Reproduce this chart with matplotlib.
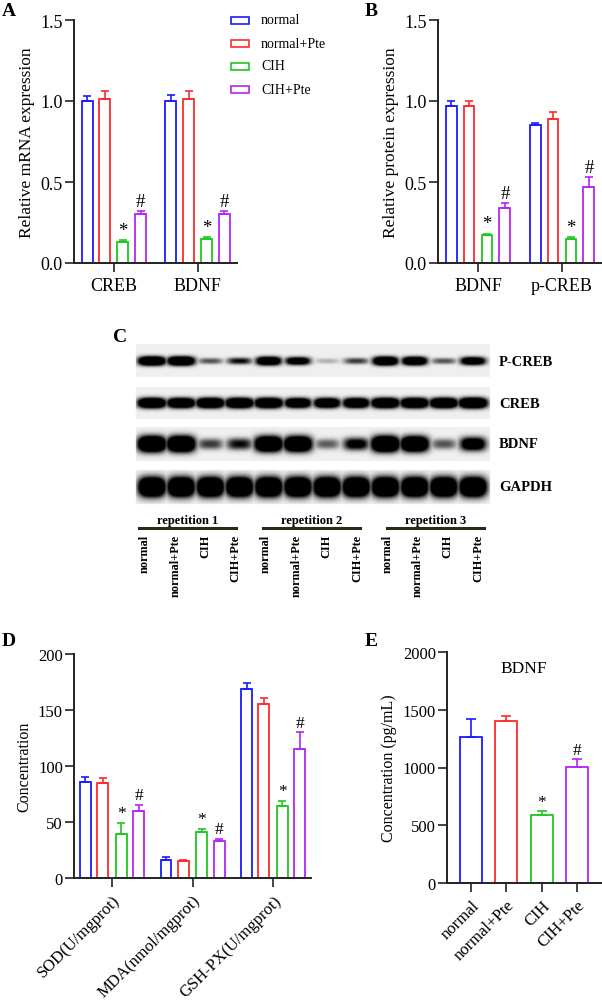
import numpy as np
import matplotlib
matplotlib.use("Agg")
import matplotlib.pyplot as plt
from matplotlib.patches import Rectangle

# ---------------- data ----------------
groups = ["normal", "normal+Pte", "CIH", "CIH+Pte"]
colors = ["#1a1aff", "#ff2a2a", "#1ec81e", "#b624f5"]
markers = ["", "", "*", "#"]

a_genes = ["CREB", "BDNF"]
a_mean = {"normal": [1.00, 1.00], "normal+Pte": [1.01, 1.01], "CIH": [0.13, 0.15], "CIH+Pte": [0.30, 0.30]}
a_err = {"normal": [0.03, 0.035], "normal+Pte": [0.05, 0.05], "CIH": [0.012, 0.012], "CIH+Pte": [0.02, 0.018]}

b_prot = ["BDNF", "p-CREB"]
b_mean = {"normal": [0.97, 0.85], "normal+Pte": [0.97, 0.89], "CIH": [0.17, 0.15], "CIH+Pte": [0.34, 0.47]}
b_err = {"normal": [0.03, 0.015], "normal+Pte": [0.03, 0.045], "CIH": [0.012, 0.012], "CIH+Pte": [0.03, 0.06]}

d_ind = ["SOD(U/mgprot)", "MDA(nmol/mgprot)", "GSH-PX(U/mgprot)"]
d_mean = {"normal": [86, 16, 169], "normal+Pte": [85, 15, 155], "CIH": [39, 41, 64], "CIH+Pte": [60, 33, 115]}
d_err = {"normal": [4, 3, 5], "normal+Pte": [4, 1, 6], "CIH": [10, 3, 5], "CIH+Pte": [5, 2, 15]}

e_title = "BDNF"
e_mean = [1260, 1405, 585, 1005]
e_err = [160, 40, 35, 65]

blot_rows = ["P-CREB", "CREB", "BDNF", "GAPDH"]
blot_reps = ["repetition 1", "repetition 2", "repetition 3"]
pcreb_band = [0.95, 0.95, 0.30, 0.45, 0.85, 0.70, 0.12, 0.35, 0.90, 0.85, 0.30, 0.75]
creb_band = [0.95, 0.92, 0.95, 0.95, 0.95, 0.88, 0.88, 0.90, 0.95, 0.95, 0.95, 1.00]
bdnf_band = [1.00, 1.00, 0.35, 0.45, 0.95, 0.95, 0.28, 0.55, 1.00, 0.95, 0.30, 0.70]
gapdh_band = [1.00, 1.00, 1.00, 1.00, 1.00, 1.00, 1.00, 1.00, 1.00, 1.00, 1.00, 1.00]

# ---------------- layout helpers ----------------
W, H = 602, 1003
plt.rcParams["font.family"] = ["Liberation Serif", "DejaVu Serif"]
fig = plt.figure(figsize=(W / 100, H / 100), dpi=100)
AX_C = "#222222"


def ax_px(l, t, r, b):
    return fig.add_axes([l / W, 1 - b / H, (r - l) / W, (b - t) / H])


def fx(x):
    return x / W


def fy(y):
    return 1 - y / H


def style_axes(ax, fs):
    for s in ["top", "right"]:
        ax.spines[s].set_visible(False)
    for s in ["left", "bottom"]:
        ax.spines[s].set_color(AX_C)
        ax.spines[s].set_linewidth(1.4)
    ax.tick_params(axis="both", colors=AX_C, labelcolor="black", labelsize=fs,
                   length=6.5, width=1.2, direction="out")
    ax.tick_params(axis="y", pad=1.5)


def grouped(ax, cats, mean, err, offs, width, ann_off, ann_fs):
    x = np.arange(len(cats))
    for i, g in enumerate(groups):
        xs = x + offs[i]
        ax.bar(xs, mean[g], width, facecolor="white", edgecolor=colors[i], linewidth=1.3, zorder=2)
        ax.errorbar(xs, mean[g], yerr=[np.zeros(len(cats)), err[g]], fmt="none",
                    ecolor=colors[i], elinewidth=1.2, capsize=3, capthick=1.2, zorder=2)
        if markers[i]:
            for xx, m, e in zip(xs, mean[g], err[g]):
                ax.annotate(markers[i], (xx, m + e), xytext=(0, ann_off), textcoords="offset points",
                            ha="center", va="center", fontsize=ann_fs)
    ax.set_xticks(x)
    ax.set_xticklabels(cats)


offs = [-0.32, -0.107, 0.107, 0.32]

# ---------------- panel A ----------------
axA = ax_px(74, 21, 237, 264)
grouped(axA, a_genes, a_mean, a_err, offs, 0.13, 7, 13.5)
axA.set_xlim(-0.476, 1.47)
axA.set_ylim(0, 1.5)
axA.set_yticks([0, 0.5, 1.0, 1.5])
axA.set_yticklabels(["0.0", "0.5", "1.0", "1.5"])
axA.set_ylabel("Relative mRNA expression", fontsize=12.5, labelpad=4)
style_axes(axA, 13)

# legend
for i, g in enumerate(groups):
    yc = [21, 44, 67, 90][i]
    fig.add_artist(Rectangle((fx(231), fy(yc + 3.5)), fx(18), 7 / H, facecolor="none",
                             edgecolor=colors[i], linewidth=1.2, transform=fig.transFigure))
    fig.text(fx(261), fy(yc), g, fontsize=10, va="center", ha="left")

# ---------------- panel B ----------------
axB = ax_px(438, 21, 602, 264)
grouped(axB, b_prot, b_mean, b_err, offs, 0.13, 7, 13.5)
axB.set_xlim(-0.476, 1.476)
axB.set_ylim(0, 1.5)
axB.set_yticks([0, 0.5, 1.0, 1.5])
axB.set_yticklabels(["0.0", "0.5", "1.0", "1.5"])
axB.set_ylabel("Relative protein expression", fontsize=12.5, labelpad=4)
style_axes(axB, 13)

# ---------------- panel C (western blot) ----------------
axC = ax_px(130, 340, 496, 510)
x0, x1, y0, y1 = 130, 496, 340, 510
res = 0.5
xs = np.arange(x0, x1, res) + res / 2
ys = np.arange(y0, y1, res) + res / 2
X, Y = np.meshgrid(xs, ys)
img = np.ones_like(X)
lanes = np.linspace(152, 473, 12)
strips = [(345, 378, 362, 4.6, 12.5, pcreb_band), (388, 420, 404, 5.2, 13.0, creb_band),
          (428, 462, 445, 8.0, 13.0, bdnf_band), (471, 505, 488, 9.8, 12.5, gapdh_band)]
for (sy0, sy1, yc, wy, wx0, bands) in strips:
    inside = (X >= 136) & (X <= 490) & (Y >= sy0) & (Y <= sy1)
    img[inside] = 0.94
    dark = np.zeros_like(X)
    for k, (lx, d) in enumerate(zip(lanes, bands)):
        wx = wx0 + 1.0 * (d > 0.9)
        h = wy * (0.5 + 0.5 * d)
        prof = np.exp(-np.abs((X - lx) / wx) ** 3.2 - np.abs((Y - yc) / h) ** 2.4)
        dark = np.maximum(dark, np.clip(d * 2.2 * prof, 0, 1))
    img = np.where(inside, img * (1 - dark), img)
axC.imshow(img, cmap="gray", vmin=0, vmax=1, extent=(x0, x1, y1, y0), interpolation="bilinear", aspect="auto")
axC.set_xlim(x0, x1)
axC.set_ylim(y1, y0)
axC.axis("off")
for s, name in zip(strips, blot_rows):
    fig.text(fx(499), fy(s[2]), name, fontsize=10.5, fontweight="bold", va="center", ha="left")

rep_lines = [(139, 236), (263, 360), (387, 484)]
for (lx0, lx1), name in zip(rep_lines, blot_reps):
    fig.add_artist(plt.Line2D([fx(lx0), fx(lx1)], [fy(529), fy(529)], color="#2e2a18", linewidth=2.2,
                              transform=fig.transFigure))
    fig.text(fx((lx0 + lx1) / 2), fy(521), name, fontsize=9, fontweight="bold", ha="center", va="center")
lab_x = np.linspace(145, 478, 12)
for k, lx in enumerate(lab_x):
    fig.text(fx(lx), fy(535), groups[k % 4], fontsize=8.8, fontweight="bold", rotation=90,
             ha="center", va="top")

# ---------------- panel D ----------------
axD = ax_px(74, 655, 311, 879)
grouped(axD, d_ind, d_mean, d_err, [-0.33, -0.115, 0.115, 0.33], 0.135, 7, 12.5)
axD.set_xlim(-0.472, 2.47)
axD.set_ylim(0, 200)
axD.set_yticks([0, 50, 100, 150, 200])
axD.set_ylabel("Concentration", fontsize=11.5, labelpad=4)
style_axes(axD, 12)
plt.setp(axD.get_xticklabels(), rotation=45, ha="right", rotation_mode="anchor")

# ---------------- panel E ----------------
axE = ax_px(447, 653, 602, 884)
xe = np.arange(len(groups))
for i in range(len(groups)):
    axE.bar(xe[i], e_mean[i], 0.63, facecolor="white", edgecolor=colors[i], linewidth=1.3, zorder=2)
    axE.errorbar(xe[i], e_mean[i], yerr=[[0], [e_err[i]]], fmt="none", ecolor=colors[i],
                 elinewidth=1.2, capsize=3.5, capthick=1.2, zorder=2)
    if markers[i]:
        axE.annotate(markers[i], (xe[i], e_mean[i] + e_err[i]), xytext=(0, 7), textcoords="offset points",
                     ha="center", va="center", fontsize=12.5)
axE.set_xticks(xe)
axE.set_xticklabels(groups)
axE.set_xlim(-0.68, 3.71)
axE.set_ylim(0, 2000)
axE.set_yticks([0, 500, 1000, 1500, 2000])
axE.set_ylabel("Concentration (pg/mL)", fontsize=11.5, labelpad=4)
style_axes(axE, 12)
plt.setp(axE.get_xticklabels(), rotation=45, ha="right", rotation_mode="anchor")
fig.text(fx(524), fy(669), e_title, fontsize=12.5, ha="center", va="center")

# panel letters
for letter, (px, py) in zip("ABCDE", [(9, 11), (371, 11), (120, 338), (9, 641), (371, 641)]):
    fig.text(fx(px), fy(py), letter, fontsize=14, fontweight="bold", ha="center", va="center")

fig.savefig("out.png", dpi=100)
